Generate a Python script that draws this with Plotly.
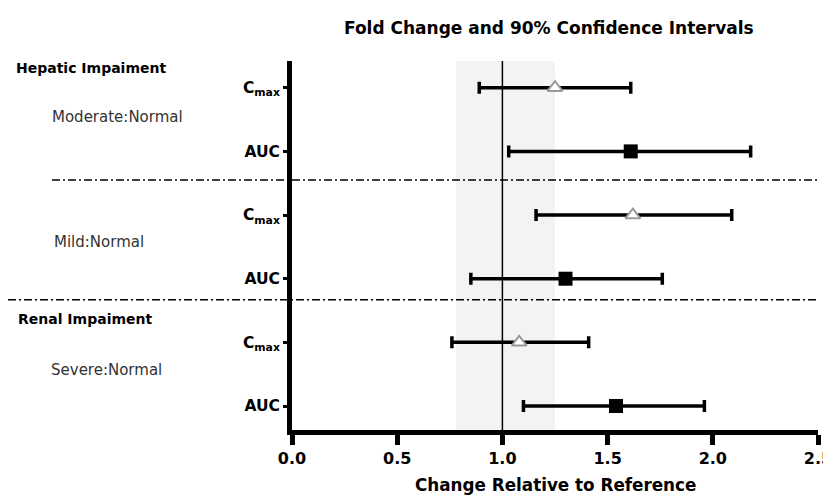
import plotly.graph_objects as go

# ---- data ----
comparisons = ["Moderate:Normal", "Mild:Normal", "Severe:Normal"]
sections = ["Hepatic Impaiment", "Renal Impaiment"]
param_labels = ["C<sub>max</sub>", "AUC"]

cmax_fc = [1.25, 1.62, 1.08]
cmax_lo = [0.89, 1.16, 0.76]
cmax_hi = [1.61, 2.09, 1.41]

auc_fc = [1.61, 1.30, 1.54]
auc_lo = [1.03, 0.85, 1.10]
auc_hi = [2.18, 1.76, 1.96]

cmax_pos = [6, 4, 2]
auc_pos = [5, 3, 1]

band_lo, band_hi = 0.78, 1.25
ref_value = 1.0
x_ticks = [0.0, 0.5, 1.0, 1.5, 2.0, 2.5]

# ---- layout geometry (page has an 8px body margin) ----
OFF = 8
W, H = 831 - OFF, 495 - OFF
PLOT_X0, PLOT_X1 = 292, 818      # target window pixels
PLOT_Y0, PLOT_Y1 = 61, 430
L = PLOT_X0 - OFF
R = W - (PLOT_X1 - OFF)
T = PLOT_Y0 - OFF
B = H - (PLOT_Y1 - OFF)
PW, PH = PLOT_X1 - PLOT_X0, PLOT_Y1 - PLOT_Y0


def px_x(px):
    return (px - PLOT_X0) / PW


def px_y(py):
    return (PLOT_Y1 - py) / PH


FONT = "DejaVu Sans"

fig = go.Figure()

fig.add_trace(go.Scatter(
    x=cmax_fc, y=cmax_pos, mode="markers", name="Cmax",
    marker=dict(symbol="triangle-up", size=13, color="white",
                line=dict(color="#9a9a9a", width=2)),
    error_x=dict(type="data", symmetric=False,
                 array=[h - f for h, f in zip(cmax_hi, cmax_fc)],
                 arrayminus=[f - l for f, l in zip(cmax_fc, cmax_lo)],
                 color="black", thickness=3.5, width=6),
    showlegend=False,
))

fig.add_trace(go.Scatter(
    x=auc_fc, y=auc_pos, mode="markers", name="AUC",
    marker=dict(symbol="square", size=14, color="black"),
    error_x=dict(type="data", symmetric=False,
                 array=[h - f for h, f in zip(auc_hi, auc_fc)],
                 arrayminus=[f - l for f, l in zip(auc_fc, auc_lo)],
                 color="black", thickness=3.5, width=6),
    showlegend=False,
))

shapes = [
    dict(type="rect", xref="x", yref="paper", x0=band_lo, x1=band_hi, y0=0, y1=1,
         fillcolor="#f3f3f3", line=dict(width=0), layer="below"),
    dict(type="line", xref="x", yref="paper", x0=ref_value, x1=ref_value, y0=0, y1=1,
         line=dict(color="black", width=1.5), layer="below"),
    dict(type="line", xref="paper", yref="y", x0=px_x(52), x1=px_x(818), y0=4.55, y1=4.55,
         line=dict(color="black", width=1.5, dash="8px,3px,2px,3px")),
    dict(type="line", xref="paper", yref="y", x0=px_x(8), x1=px_x(818), y0=2.67, y1=2.67,
         line=dict(color="black", width=1.5, dash="8px,3px,2px,3px")),
]

annotations = [
    dict(text="<b>Fold Change and 90% Confidence Intervals</b>", x=px_x(549), y=px_y(28),
         xanchor="center", yanchor="middle", font=dict(size=17, color="black")),
    dict(text="<b>Change Relative to Reference</b>", x=px_x(555), y=px_y(485),
         xanchor="center", yanchor="middle", font=dict(size=16.8, color="black")),
    dict(text="<b>" + sections[0] + "</b>", x=px_x(14), y=px_y(68),
         xanchor="left", yanchor="middle", font=dict(size=14, color="black")),
    dict(text=comparisons[0], x=px_x(50), y=px_y(117),
         xanchor="left", yanchor="middle", font=dict(size=15, color="#333")),
    dict(text=comparisons[1], x=px_x(52), y=px_y(242),
         xanchor="left", yanchor="middle", font=dict(size=15, color="#333")),
    dict(text="<b>" + sections[1] + "</b>", x=px_x(16), y=px_y(319),
         xanchor="left", yanchor="middle", font=dict(size=14, color="black")),
    dict(text=comparisons[2], x=px_x(49), y=px_y(370),
         xanchor="left", yanchor="middle", font=dict(size=15, color="#333")),
]
for a in annotations:
    a.update(xref="paper", yref="paper", showarrow=False)

fig.update_layout(
    width=W, height=H,
    margin=dict(l=L, r=R, t=T, b=B, pad=0, autoexpand=False),
    paper_bgcolor="white", plot_bgcolor="white",
    font=dict(family=FONT, color="black"),
    shapes=shapes, annotations=annotations,
    xaxis=dict(range=[0, 2.5], tickvals=x_ticks,
               ticktext=[f"{v:.1f}" for v in x_ticks],
               automargin=False,
               showgrid=False, zeroline=False,
               showline=True, linecolor="black", linewidth=5,
               ticks="outside", ticklen=10, tickwidth=5, tickcolor="black",
               ticklabeloverflow="allow",
               tickfont=dict(size=16, weight="bold", color="black")),
    yaxis=dict(range=[0.623, 6.42],
               tickvals=cmax_pos + auc_pos,
               ticktext=["<b>" + param_labels[0] + "</b>"] * 3 + ["<b>" + param_labels[1] + "</b>"] * 3,
               automargin=False,
               showgrid=False, zeroline=False,
               showline=True, linecolor="black", linewidth=5,
               ticks="outside", ticklen=4, tickwidth=3, tickcolor="black",
               tickfont=dict(size=15.5, color="black")),
)

fig.write_html("out.html")
